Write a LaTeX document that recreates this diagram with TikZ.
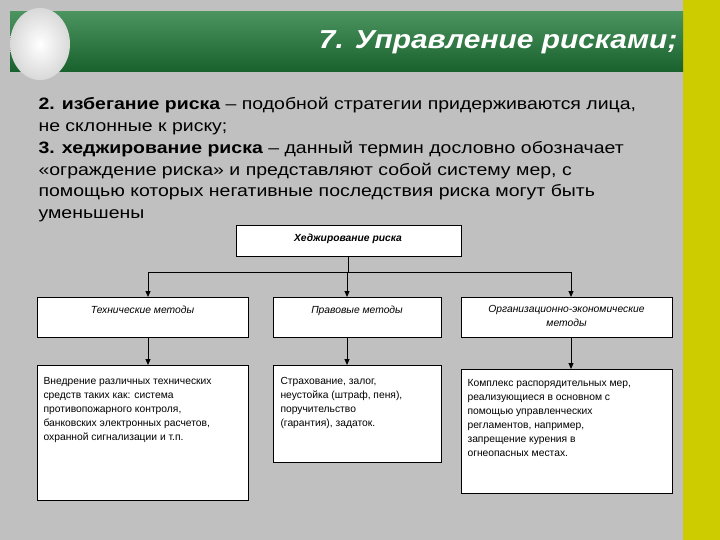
\documentclass[tikz,border=0pt]{standalone}
\usepackage{fontspec}
\setmainfont{Liberation Sans}
\newfontfamily\widefont[FakeStretch=1.18]{Liberation Sans}
\newfontfamily\titlefont[FakeStretch=1.15]{Liberation Sans}
\usetikzlibrary{arrows.meta}
\definecolor{bgcol}{RGB}{192,192,192}
\definecolor{yellowbar}{RGB}{204,204,0}
\definecolor{gr}{RGB}{30,120,55}
\tikzset{
 box/.style={draw=black,fill=white,line width=0.8pt,inner sep=0pt},
 conn/.style={line width=1pt},
 arr/.style={conn,-{Triangle[length=6pt,width=5pt]}},
 btxt/.style={font=\fontsize{10.3}{14}\selectfont,align=left,anchor=north west},
 htxt/.style={font=\fontsize{10.3}{13.5}\selectfont\itshape,align=center,anchor=north}
}
\begin{document}
\begin{tikzpicture}[x=1pt,y=-1pt]
\fill[bgcol] (0,0) rectangle (720,540);
\useasboundingbox (0,0) rectangle (720,540);
\fill[yellowbar] (683,0) rectangle (720,540);
\shade[top color=gr!80!white,bottom color=gr!80!black] (10,12) rectangle (683,72);
\shade[inner color=white,outer color=gray!30] (40,44) ellipse (30 and 36);
\node[anchor=east,text=white,font=\titlefont\fontsize{26}{30}\selectfont\bfseries\itshape] (title) at (681,42) {7. Управление рисками;};
\node[anchor=north west,align=left,font=\widefont\fontsize{16.5}{21.8}\selectfont] (para) at (35,94) {\textbf{2. избегание риска} – подобной стратегии придерживаются лица,\\не склонные к риску;\\\textbf{3. хеджирование риска} – данный термин дословно обозначает\\«ограждение риска» и представляют собой систему мер, с\\помощью которых негативные последствия риска могут быть\\уменьшены};
\node[box,minimum width=225,minimum height=31,anchor=north west] (top) at (236,225) {};
\node[htxt,font=\fontsize{10.3}{13}\selectfont\bfseries\itshape] (topt) at (348,231) {Хеджирование риска};
\node[box,minimum width=211,minimum height=40,anchor=north west] (a1) at (37,297) {};
\node[box,minimum width=168,minimum height=40,anchor=north west] (b1) at (273,297) {};
\node[box,minimum width=211,minimum height=40,anchor=north west] (c1) at (461,297) {};
\node[htxt] (a1t) at (142.5,302) {Технические методы};
\node[htxt] (b1t) at (357,302) {Правовые методы};
\node[htxt] (c1t) at (566.5,302) {Организационно-экономические\\методы};
\node[box,minimum width=211,minimum height=135,anchor=north west] (a2) at (37,365) {};
\node[box,minimum width=168,minimum height=97,anchor=north west] (b2) at (273,365) {};
\node[box,minimum width=211,minimum height=124,anchor=north west] (c2) at (461,369) {};
\node[btxt] (a2t) at (40,374) {Внедрение различных технических\\средств таких как: система\\противопожарного контроля,\\банковских электронных расчетов,\\охранной сигнализации и т.п.};
\node[btxt] (b2t) at (277,374) {Страхование, залог,\\неустойка (штраф, пеня),\\поручительство\\(гарантия), задаток.};
\node[btxt] (c2t) at (464,376) {Комплекс распорядительных мер,\\реализующиеся в основном с\\помощью управленческих\\регламентов, например,\\запрещение курения в\\огнеопасных местах.};
\coordinate (j) at (top.south |- 0,272);
\coordinate (jl) at (148,272);
\coordinate (jm) at (347,272);
\coordinate (jr) at (571,272);
\draw[conn] (top.south) -- (j);
\draw[conn] (jl) -- (jr);
\draw[arr] (jl) -- (jl |- a1.north);
\draw[arr] (jm) -- (jm |- b1.north);
\draw[arr] (jr) -- (jr |- c1.north);
\draw[arr] (a1.south -| jl) -- (jl |- a2.north);
\draw[arr] (b1.south -| jm) -- (jm |- b2.north);
\draw[arr] (c1.south -| jr) -- (jr |- c2.north);
\end{tikzpicture}
\end{document}
